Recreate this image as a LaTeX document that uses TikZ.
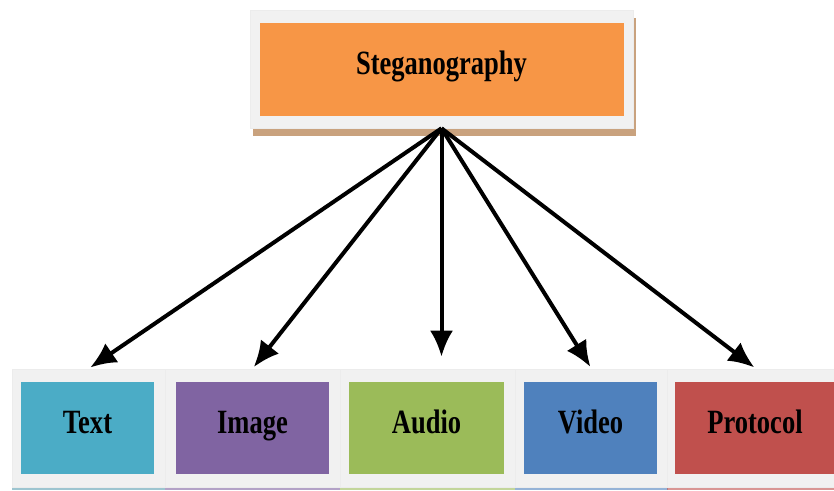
\documentclass[tikz,border=0pt]{standalone}
\usepackage{fontspec}
\setmainfont{Liberation Serif}[FakeStretch=0.78]
\usetikzlibrary{arrows.meta,shadows}
\definecolor{stegorange}{HTML}{F79646}
\definecolor{stegshadow}{HTML}{C9A27E}
\definecolor{textblue}{HTML}{4BACC6}
\definecolor{imagepurple}{HTML}{8064A2}
\definecolor{audiogreen}{HTML}{9BBB59}
\definecolor{videoblue}{HTML}{4F81BD}
\definecolor{protocolred}{HTML}{C0504D}
\definecolor{framegray}{HTML}{F1F1F1}
\begin{document}
\begin{tikzpicture}[x=1pt,y=-1pt,
    frame/.style={fill=framegray,draw=gray!15,line width=0.6pt,minimum height=118pt,inner sep=0pt},
    inbox/.style={minimum height=92pt,inner sep=0pt,text height=22pt,text depth=12pt,
      font=\fontsize{34}{40}\selectfont\bfseries},
    arr/.style={line width=4pt,-{Latex[length=26pt,width=23pt]}}]
    \useasboundingbox (0,0) rectangle (834,490);

    % top box
    \node[frame,minimum width=383pt,
      drop shadow={shadow xshift=3pt,shadow yshift=-8pt,fill=stegshadow,opacity=1}]
      (stegframe) at (441.5,69) {};
    \node[inbox,fill=stegorange,minimum width=364pt,minimum height=93pt]
      (steg) at (441.5,69.5) {Steganography};

    % bottom boxes
    \node[frame,minimum width=153pt,drop shadow={shadow xshift=0pt,shadow yshift=-3pt,fill=textblue!70!gray,opacity=0.6}]
      (textframe) at (88.5,428) {};
    \node[frame,minimum width=175pt,drop shadow={shadow xshift=0pt,shadow yshift=-3pt,fill=imagepurple,opacity=0.6}]
      (imageframe) at (252.5,428) {};
    \node[frame,minimum width=175pt,drop shadow={shadow xshift=0pt,shadow yshift=-3pt,fill=audiogreen,opacity=0.6}]
      (audioframe) at (427.5,428) {};
    \node[frame,minimum width=153pt,drop shadow={shadow xshift=0pt,shadow yshift=-3pt,fill=videoblue,opacity=0.6}]
      (videoframe) at (591.5,428) {};
    \node[frame,minimum width=178pt,drop shadow={shadow xshift=0pt,shadow yshift=-3pt,fill=protocolred,opacity=0.6}]
      (protocolframe) at (756,428) {};

    \node[inbox,fill=textblue,minimum width=133pt] (text) at (87.5,428) {Text};
    \node[inbox,fill=imagepurple,minimum width=153pt] (image) at (252.5,428) {Image};
    \node[inbox,fill=audiogreen,minimum width=155pt] (audio) at (426.5,428) {Audio};
    \node[inbox,fill=videoblue,minimum width=133pt] (video) at (590.5,428) {Video};
    \node[inbox,fill=protocolred,minimum width=160pt] (protocol) at (755,428) {Protocol};

    % arrows
    \draw[arr,shorten >=2pt] (stegframe.south) -- (textframe.north);
    \draw[arr,shorten >=2pt] (stegframe.south) -- (imageframe.north);
    \draw[arr,shorten >=12pt] (stegframe.south) -- (stegframe.south |- audioframe.north);
    \draw[arr,shorten >=2pt] (stegframe.south) -- (videoframe.north);
    \draw[arr,shorten >=2pt] (stegframe.south) -- (protocolframe.north);
\end{tikzpicture}
\end{document}
